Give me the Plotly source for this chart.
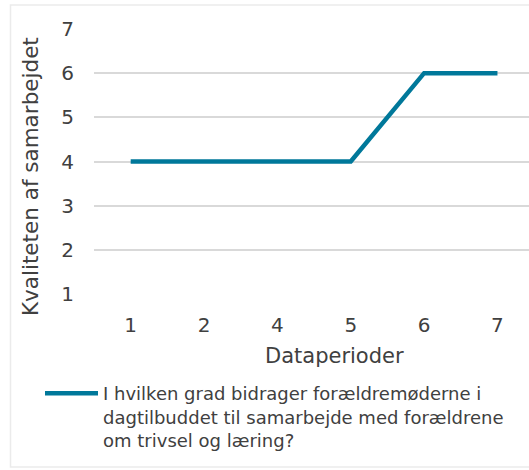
import plotly.graph_objects as go

categories = ["1", "2", "4", "5", "6", "7"]
values = [4, 4, 4, 4, 6, 6]
series_name = ("I hvilken grad bidrager forældremøderne i<br>"
               "dagtilbuddet til samarbejde med forældrene<br>"
               "om trivsel og læring?")
y_ticks = [1, 2, 3, 4, 5, 6, 7]

W, H = 529, 470
L, R, T, B = 94, 0, 29, 176
pw, ph = W - L - R, H - T - B

def px(x):
    return (x - L) / pw

def py(y):
    return (H - B - y) / ph

font = dict(family="DejaVu Sans, Verdana, sans-serif", color="#404040")

fig = go.Figure()
fig.add_trace(go.Scatter(
    x=categories, y=values, mode="lines", name=series_name,
    line=dict(color="#00789A", width=4.5),
))

fig.update_layout(
    width=W, height=H,
    margin=dict(l=L, r=R, t=T, b=B, pad=0, autoexpand=False),
    paper_bgcolor="white", plot_bgcolor="white",
    font=dict(size=18, **font),
    showlegend=True,
    legend=dict(x=px(40), y=py(375), xanchor="left", yanchor="top",
                font=dict(size=18, **font), valign="top",
                bgcolor="rgba(0,0,0,0)", itemwidth=53),
    xaxis=dict(type="category", range=[-0.5, 5.43], showgrid=False,
               showline=False, zeroline=False, ticks="",
               ticklabelstandoff=17, tickfont=dict(size=20, **font)),
    yaxis=dict(range=[1, 7], tickvals=y_ticks, showgrid=True,
               gridcolor="#D9D9D9", gridwidth=1.5, zeroline=False,
               showline=False, ticks="", ticklabelstandoff=19,
               tickfont=dict(size=20, **font)),
    annotations=[
        dict(text="Dataperioder", xref="paper", yref="paper",
             x=px(334), y=py(356), showarrow=False,
             font=dict(size=21, **font), xanchor="center", yanchor="middle"),
        dict(text="Kvaliteten af samarbejdet", xref="paper", yref="paper",
             x=px(30), y=py(177), showarrow=False, textangle=-90,
             font=dict(size=21.5, **font), xanchor="center", yanchor="middle"),
    ],
    shapes=[
        dict(type="rect", xref="paper", yref="paper",
             x0=px(10.5), x1=px(540), y0=py(467), y1=py(5),
             line=dict(color="#EBEBEB", width=1.5), fillcolor="rgba(0,0,0,0)",
             layer="below"),
    ],
)

fig.write_html("out.html", config={"displayModeBar": False},
               post_script="document.body.style.margin='0';")
